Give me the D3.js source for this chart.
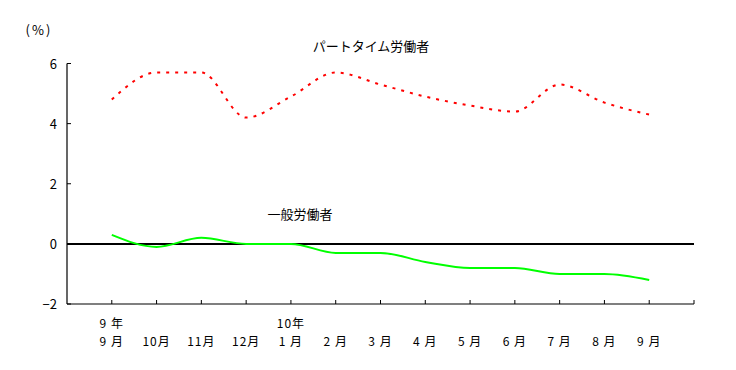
<!DOCTYPE html>
<html>
<head>
<meta charset="utf-8">
<script src="https://cdn.jsdelivr.net/npm/d3@7"></script>
<style>
  body { margin: 0; background: #fff; }
  text { font-family: "Noto Sans CJK JP", sans-serif; font-size: 13px; fill: #000; }
  .xlab { font-size: 12px; letter-spacing: 1px; }
</style>
</head>
<body>
<div id="chart"></div>
<script>
// =======================
// Data
// =======================
const months = ["9 月", "10月", "11月", "12月", "1 月", "2 月", "3 月", "4 月", "5 月", "6 月", "7 月", "8 月", "9 月"];
const years = [{ i: 0, label: "9 年" }, { i: 4, label: "10年" }];
const partTime = [4.8, 5.7, 5.7, 4.2, 4.9, 5.7, 5.3, 4.9, 4.6, 4.4, 5.3, 4.7, 4.3];
const general = [0.3, -0.1, 0.2, 0.0, 0.0, -0.3, -0.3, -0.6, -0.8, -0.8, -1.0, -1.0, -1.2];
const yTicks = [6, 4, 2, 0, -2];

const width = 736, height = 370;

const svg = d3.select("#chart")
  .append("svg")
  .attr("width", width)
  .attr("height", height);

// =======================
// Scales
// =======================
const x = d3.scaleLinear().domain([-1, 13]).range([67, 694]);
const y = d3.scaleLinear().domain([-2, 6]).range([304, 63.5]);

// axes
svg.append("line")
  .attr("x1", x(-1)).attr("x2", x(-1))
  .attr("y1", y(6)).attr("y2", y(-2))
  .attr("stroke", "#000").attr("stroke-width", 1.2);

svg.append("line")
  .attr("x1", x(-1)).attr("x2", x(13))
  .attr("y1", y(-2)).attr("y2", y(-2))
  .attr("stroke", "#000").attr("stroke-width", 1.2);

// y ticks (inward)
svg.selectAll(".ytick")
  .data(yTicks)
  .enter()
  .append("line")
  .attr("x1", x(-1)).attr("x2", x(-1) + 4)
  .attr("y1", d => y(d)).attr("y2", d => y(d))
  .attr("stroke", "#000");

svg.selectAll(".ylabel")
  .data(yTicks)
  .enter()
  .append("text")
  .attr("x", 57)
  .attr("y", d => y(d) + 5)
  .attr("text-anchor", "end")
  .text(d => d < 0 ? "\u2212" + Math.abs(d) : d);

// x ticks (inward)
svg.selectAll(".xtick")
  .data(d3.range(0, 14))
  .enter()
  .append("line")
  .attr("x1", d => x(d)).attr("x2", d => x(d))
  .attr("y1", y(-2)).attr("y2", y(-2) - 4)
  .attr("stroke", "#000");

svg.selectAll(".month")
  .data(months)
  .enter()
  .append("text")
  .attr("class", "xlab")
  .attr("x", (d, i) => x(i))
  .attr("y", 346)
  .attr("text-anchor", "middle")
  .text(d => d);

svg.selectAll(".year")
  .data(years)
  .enter()
  .append("text")
  .attr("class", "xlab")
  .attr("x", d => x(d.i))
  .attr("y", 328)
  .attr("text-anchor", "middle")
  .text(d => d.label);

// zero line
svg.append("line")
  .attr("x1", x(-1)).attr("x2", x(13))
  .attr("y1", y(0)).attr("y2", y(0))
  .attr("stroke", "#000").attr("stroke-width", 2);

// =======================
// Lines
// =======================
const line = d3.line()
  .x((d, i) => x(i))
  .y(d => y(d))
  .curve(d3.curveMonotoneX);

svg.append("path")
  .attr("d", line(general))
  .attr("fill", "none")
  .attr("stroke", "#00ff00")
  .attr("stroke-width", 2);

svg.append("path")
  .attr("d", line(partTime))
  .attr("fill", "none")
  .attr("stroke", "#ff0000")
  .attr("stroke-width", 2)
  .attr("stroke-dasharray", "3,6");

// labels
svg.append("text").attr("x", 39).attr("y", 35).attr("text-anchor", "middle")
  .style("letter-spacing", "2px").text("(%)");
svg.append("text").attr("x", 371).attr("y", 51).attr("text-anchor", "middle").text("パートタイム労働者");
svg.append("text").attr("x", 300).attr("y", 219).attr("text-anchor", "middle").text("一般労働者");
</script>
</body>
</html>
